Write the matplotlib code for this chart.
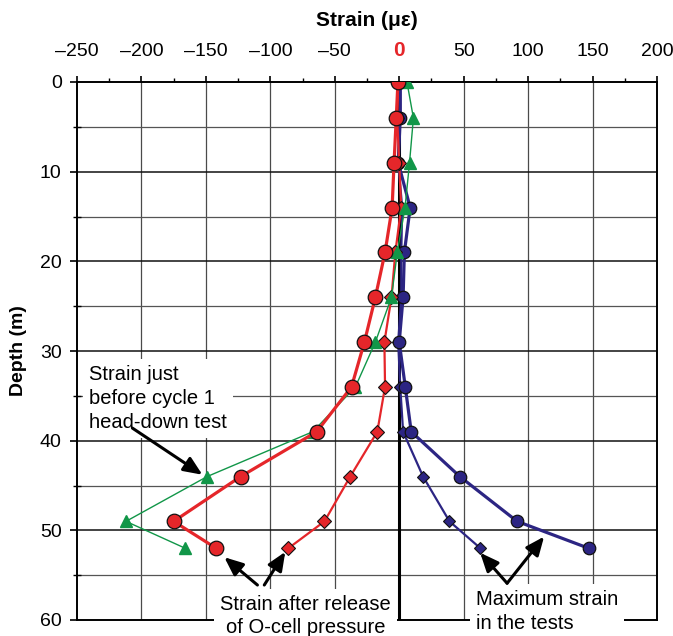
import numpy as np
import matplotlib
matplotlib.use("Agg")
import matplotlib.pyplot as plt
from matplotlib.ticker import MultipleLocator

plt.rcParams["font.family"] = ["Liberation Sans", "DejaVu Sans"]

# depths of the strain gauges (m)
depth = [0, 4, 9, 14, 19, 24, 29, 34, 39, 44, 49, 52]

# strain readings (micro-strain)
before_cycle1 = [6, 11, 8, 4.5, -1.5, -6, -18.5, -34, -67, -149, -212, -166]        # green triangles
release_circ = [-1, -2.3, -4, -5.5, -11, -18.5, -27, -37, -64, -123, -175, -142]     # red circles
release_diam = [-0.8, -1.6, 0, 1.5, -3, -6, -11.5, -11, -17, -38, -58, -86]          # red diamonds
max_circ = [0.8, 0.8, -0.8, 8.5, 4, 3, 0, 4.7, 9.3, 47, 91.5, 147]                   # blue circles
max_diam = [0.8, 0.8, -0.8, 2.3, 1.6, 1.6, -0.8, 0.8, 3, 18.5, 39, 63]               # blue diamonds

xticks = [-250, -200, -150, -100, -50, 0, 50, 100, 150, 200]

RED = "#e5262a"
GREEN = "#119648"
BLUE = "#2c2583"

fig = plt.figure(figsize=(6.73, 6.36), dpi=100)
ax = fig.add_axes([77 / 673, 16 / 636, 580 / 673, 538 / 636])

# grid drawn by hand: heavier at every 10 m
for x in range(-200, 200, 50):
    ax.axvline(x, color="#4a4a4a", lw=0.9, zorder=1)
for d in range(5, 60, 5):
    if d % 10 == 0:
        ax.axhline(d, color="#111111", lw=1.1, zorder=1)
    else:
        ax.axhline(d, color="#555555", lw=0.9, zorder=1)
ax.axvline(0, color="black", lw=2.2, zorder=2)

ax.plot(max_diam, depth, color=BLUE, lw=1.6, marker="D", ms=6,
        mfc=BLUE, mec="#111111", mew=0.8, zorder=3)
ax.plot(max_circ, depth, color=BLUE, lw=2.3, marker="o", ms=9,
        mfc=BLUE, mec="#111111", mew=0.9, zorder=3)
ax.plot(release_diam, depth, color=RED, lw=1.6, marker="D", ms=7,
        mfc=RED, mec="#111111", mew=0.8, zorder=4)
ax.plot(before_cycle1, depth, color=GREEN, lw=1.0, marker="^", ms=8,
        mfc=GREEN, mec=GREEN, zorder=4)
ax.plot(release_circ, depth, color=RED, lw=2.3, marker="o", ms=10.5,
        mfc=RED, mec="#111111", mew=0.9, zorder=5)

ax.set_xlim(-250, 200)
ax.set_ylim(60, 0)
ax.xaxis.tick_top()
ax.xaxis.set_label_position("top")
ax.set_xticks(xticks)
ax.set_xticklabels(["\u2013" + str(-t) if t < 0 else str(t) for t in xticks])
ax.xaxis.set_minor_locator(MultipleLocator(25))
ax.yaxis.set_major_locator(MultipleLocator(10))
ax.yaxis.set_minor_locator(MultipleLocator(5))
ax.tick_params(axis="x", which="major", direction="out", length=4, width=1.2,
               labelsize=14, pad=12)
ax.tick_params(axis="x", which="minor", direction="out", length=3, width=1)
ax.tick_params(axis="y", which="major", direction="out", length=5, width=1.2,
               labelsize=14, pad=6)
ax.tick_params(axis="y", which="minor", direction="inout", length=6, width=1)
for lab in ax.get_xticklabels():
    if lab.get_text() == "0":
        lab.set_color(RED)
        lab.set_fontweight("bold")
        lab.set_fontsize(15)

for s in ax.spines.values():
    s.set_linewidth(1.4)

ax.set_xlabel("Strain (\u03bc\u03b5)", fontsize=15, fontweight="bold", labelpad=11)
ax.set_ylabel("Depth (m)", fontsize=14, fontweight="bold", labelpad=9)

box = dict(boxstyle="square,pad=0.3", fc="white", ec="none")
ax.text(-241, 31.6, "Strain just\nbefore cycle 1\nhead-down test", fontsize=14.5,
        ha="left", va="top", bbox=box, zorder=6, linespacing=1.33)
ax.text(-72.9, 57.2, "Strain after release\nof O-cell pressure", fontsize=14.5,
        ha="center", va="top", multialignment="center", bbox=box, zorder=6,
        linespacing=1.3, clip_on=False)
ax.text(59.7, 56.7, "Maximum strain\nin the tests", fontsize=14.5,
        ha="left", va="top", bbox=box, zorder=6, linespacing=1.3, clip_on=False)

arrows = [((-207, 38.6), (-152.7, 43.8)),
          ((-110, 56.1), (-135.7, 53.0)),
          ((-104.7, 56.1), (-88.4, 52.4)),
          ((83.7, 55.9), (62.8, 52.5)),
          ((83.7, 55.9), (112.4, 50.7))]
for tail, head in arrows:
    ax.annotate("", xy=head, xytext=tail, zorder=7,
                arrowprops=dict(arrowstyle="-|>,head_length=0.7,head_width=0.3",
                                color="black", lw=2.2, mutation_scale=16,
                                shrinkA=0, shrinkB=0))

fig.savefig("out.png", dpi=100)
